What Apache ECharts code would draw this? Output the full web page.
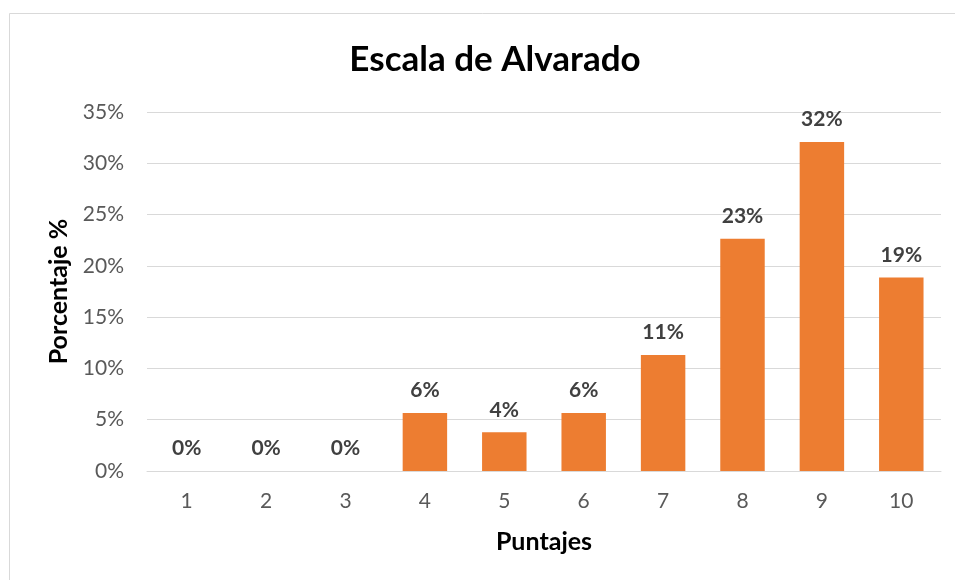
<!DOCTYPE html>
<html>
<head>
<meta charset="utf-8">
<style>
  html, body { margin: 0; padding: 0; background: #ffffff; }
  #chart { width: 955px; height: 580px; }
</style>
<script src="https://cdn.jsdelivr.net/npm/echarts@6/dist/echarts.min.js"></script>
</head>
<body>
<div id="chart"></div>
<script>
// Puntajes de la escala y porcentaje de pacientes en cada uno
const categories = ['1', '2', '3', '4', '5', '6', '7', '8', '9', '10'];
const percentages = [0, 0, 0, 5.66, 3.77, 5.66, 11.32, 22.64, 32.08, 18.87];
const yTicks = { min: 0, max: 35, step: 5 };

const FONT = 'Lato, "Open Sans", sans-serif';

const chart = echarts.init(document.getElementById('chart'), null, { renderer: 'canvas' });

chart.setOption({
  backgroundColor: '#ffffff',
  animation: false,
  textStyle: { fontFamily: FONT },
  graphic: [{
    type: 'rect',
    shape: { x: 9.5, y: 13.5, width: 1200, height: 1200 },
    style: { fill: 'none', stroke: '#d9d9d9', lineWidth: 1 },
    silent: true
  }],
  title: {
    text: 'Escala de Alvarado',
    left: 490,
    textAlign: 'center',
    top: 37,
    textStyle: { fontFamily: FONT, fontSize: 35, fontWeight: 'bold', color: '#000000' }
  },
  grid: { left: 147, right: 14, top: 112, bottom: 109, containLabel: false },
  xAxis: {
    type: 'category',
    data: categories,
    name: 'Puntajes',
    nameLocation: 'middle',
    nameGap: 58,
    nameTextStyle: { fontFamily: FONT, fontSize: 25, fontWeight: 'bold', color: '#000000' },
    axisLine: { show: true, lineStyle: { color: '#d9d9d9', width: 1 } },
    axisTick: { show: false },
    axisLabel: { margin: 20, fontFamily: FONT, fontSize: 21, color: '#595959' }
  },
  yAxis: {
    type: 'value',
    min: yTicks.min,
    max: yTicks.max,
    interval: yTicks.step,
    name: 'Porcentaje %',
    nameLocation: 'middle',
    nameGap: 72,
    nameRotate: 90,
    nameTextStyle: { fontFamily: FONT, fontSize: 25, fontWeight: 'bold', color: '#000000' },
    axisLine: { show: false },
    axisTick: { show: false },
    splitLine: { lineStyle: { color: '#d9d9d9', width: 1 } },
    axisLabel: { margin: 23, fontFamily: FONT, fontSize: 21, color: '#595959', formatter: '{value}%' }
  },
  series: [{
    type: 'bar',
    data: percentages,
    barCategoryGap: '44%',
    itemStyle: { color: '#ed7d31' },
    label: {
      show: true,
      position: 'top',
      distance: 12,
      fontFamily: FONT,
      fontSize: 21,
      fontWeight: 'bold',
      color: '#404040',
      formatter: p => Math.round(p.value) + '%'
    }
  }]
});
</script>
</body>
</html>
